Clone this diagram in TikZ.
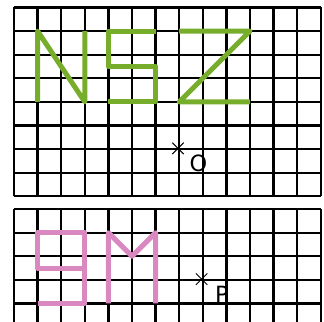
\documentclass[tikz,border=0pt]{standalone}
\usepackage{fontspec}
\setmainfont{DejaVu Sans}
\usetikzlibrary{shapes.misc}
\definecolor{lgreen}{RGB}{118,173,43}
\definecolor{lpink}{RGB}{217,136,192}
\tikzset{
  gridline/.style={line width=1.35pt, black},
  glyph/.style={line width=3pt, line join=round, line cap=butt},
  xmark/.style={cross out, draw=black, line width=0.6pt, minimum size=0.22cm, inner sep=0pt},
  lbl/.style={font=\fontsize{13.5}{15}\selectfont, inner sep=0pt}
}
\begin{document}
\begin{tikzpicture}[x=0.5cm,y=0.5cm]
\useasboundingbox (-0.593,0.318) rectangle (13.136,-13.284);
\clip (-0.593,0.318) rectangle (13.136,-13.284);
% top grid
\draw[gridline, step=0.5cm] (0,0) grid (13,-8);
% green letters
\draw[glyph, lgreen] (1,-4) -- (1,-1) -- (3,-4) -- (3,-1);
\draw[glyph, lgreen] (6,-1) -- (4,-1) -- (4,-2.5) -- (6,-2.5) -- (6,-4) -- (4,-4);
\draw[glyph, lgreen] (7,-1) -- (10,-1) -- (7,-4) -- (10,-4);
\node[xmark] (mo) at (6.95,-5.97) {};
\node[lbl] (lo) at (7.81,-6.62) {O};
% bottom grid
\begin{scope}[shift={(0,-8.54)}]
\draw[gridline, step=0.5cm] (0,0) grid (13,-5);
\draw[glyph, lpink] (3,-2.5) -- (1,-2.5) -- (1,-1) -- (3,-1) -- (3,-4) -- (1,-4);
\draw[glyph, lpink] (4,-4) -- (4,-1) -- (5,-2) -- (6,-1) -- (6,-4);
\node[xmark] (mp) at (7.95,-2.97) {};
\node[lbl] (lp) at (8.81,-3.6) {P};
\end{scope}
\end{tikzpicture}
\end{document}
